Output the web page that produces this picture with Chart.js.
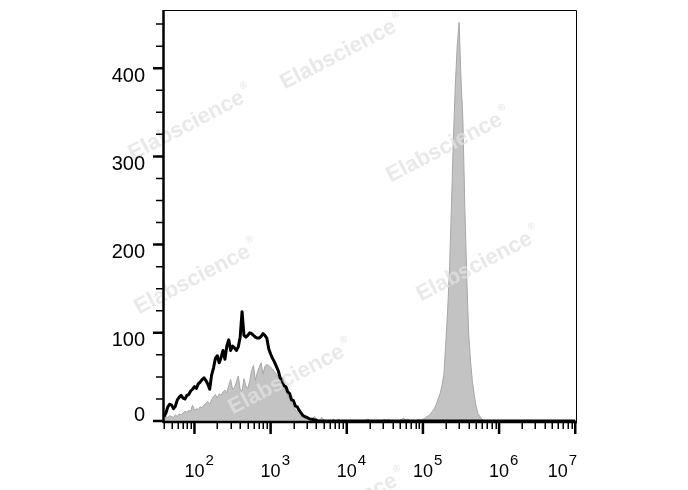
<!DOCTYPE html>
<html>
<head>
<meta charset="utf-8">
<script src="https://cdn.jsdelivr.net/npm/chart.js@4.4.1/dist/chart.umd.min.js"></script>
<style>
  body { margin: 0; background: #fff; }
  canvas { display: block; }
</style>
</head>
<body>
<canvas id="histChart" width="688" height="490"></canvas>
<script>
// Histogram bins: log10 of the fluorescence channel, uniform step
const binStart = 1.6;
const binStep = 0.025;

// Filled grey histogram (stained sample), one value per bin, 10 bins per row
const stainedCounts = [
    4, 5, 4, 6, 5, 4, 7, 5, 8, 7,              // 1.600
    9, 11, 10, 12, 11, 18, 12, 14, 13, 16,     // 1.850
    15, 18, 20, 22, 19, 24, 28, 30, 26, 31,    // 2.100
    29, 33, 35, 32, 40, 47, 36, 38, 44, 51,    // 2.350
    36, 34, 48, 40, 37, 45, 57, 63, 46, 55,    // 2.600
    61, 66, 53, 62, 64, 63, 61, 59, 56, 53,    // 2.850
    50, 46, 42, 38, 34, 29, 25, 20, 17, 13,    // 3.100
    10, 7, 5, 5, 4, 3, 3, 2, 3, 5,             // 3.350
    2, 1, 2, 4, 1, 1, 0, 1, 0, 2,              // 3.600
    0, 1, 2, 0, 0, 1, 0, 0, 1, 0,              // 3.850
    0, 0, 1, 0, 0, 0, 1, 2, 1, 0,              // 4.100
    0, 0, 1, 0, 0, 1, 2, 1, 2, 0,              // 4.350
    1, 0, 1, 0, 1, 2, 3, 1, 2, 1,              // 4.600
    0, 1, 0, 1, 2, 1, 2, 3, 5, 6,              // 4.850
    8, 11, 14, 19, 25, 31, 40, 53, 88, 126,    // 5.100
    175, 245, 320, 380, 425, 452, 388, 340, 243, 165, // 5.350
    100, 68, 44, 29, 16, 8, 5, 2, 1, 0,        // 5.600
    1, 0, 0, 0, 0, 0, 0, 0, 0, 0,              // 5.850
    0, 0, 0, 0, 0, 0, 0, 0, 0, 0,              // 6.100
    0, 0, 0, 0, 0, 0, 0, 0, 0, 0,              // 6.350
    0, 0, 0, 0, 0, 0, 0, 0, 0, 0,              // 6.600
    0, 0, 0, 0, 0, 0, 0                        // 6.850
];

// Black outline histogram (unstained control)
const controlCounts = [
    5, 9, 16, 19, 18, 14, 17, 24, 27, 29,      // 1.600
    26, 25, 29, 30, 34, 36, 39, 37, 42, 44,    // 1.850
    47, 49, 46, 42, 36, 52, 60, 71, 74, 66,    // 2.100
    72, 80, 70, 85, 92, 80, 85, 83, 80, 84,    // 2.350
    95, 124, 97, 95, 97, 100, 99, 97, 95, 94,  // 2.600
    94, 96, 99, 97, 94, 82, 76, 71, 67, 62,    // 2.850
    57, 49, 47, 40, 39, 33, 31, 24, 23, 17,    // 3.100
    16, 12, 9, 6, 5, 4, 3, 2, 2, 1,            // 3.350
    1, 0, 0, 0, 0, 0, 0, 0, 0, 0,              // 3.600
    0, 0, 0, 0, 0, 0, 0, 0, 0, 0,              // 3.850
    0, 0, 0, 0, 0, 0, 0, 0, 0, 0,              // 4.100
    0, 0, 0, 0, 0, 0, 0, 0, 0, 0,              // 4.350
    0, 0, 0, 0, 0, 0, 0, 0, 0, 0,              // 4.600
    0, 0, 0, 0, 0, 0, 0, 0, 0, 0,              // 4.850
    0, 0, 0, 0, 0, 0, 0, 0, 0, 0,              // 5.100
    0, 0, 0, 0, 0, 0, 0, 0, 0, 0,              // 5.350
    0, 0, 0, 0, 0, 0, 0, 0, 0, 0,              // 5.600
    0, 0, 0, 0, 0, 0, 0, 0, 0, 0,              // 5.850
    0, 0, 0, 0, 0, 0, 0, 0, 0, 0,              // 6.100
    0, 0, 0, 0, 0, 0, 0, 0, 0, 0,              // 6.350
    0, 0, 0, 0, 0, 0, 0, 0, 0, 0,              // 6.600
    0, 0, 0, 0, 0, 0, 0                        // 6.850
];

// Axis ticks
const xDecades = [2, 3, 4, 5, 6, 7];
const yMajorTicks = [0, 100, 200, 300, 400];
const yMinorTicks = [25, 50, 75, 125, 150, 175, 225, 250, 275, 325, 350, 375, 425, 450];

const FONT = '"Liberation Sans", Arial, sans-serif';

function toPoints(counts) {
    return counts.map((c, i) => ({ x: +(binStart + i * binStep).toFixed(3), y: c }));
}

// minor ticks of the log axis: m * 10^n, m = 2..9
function minorLogTicks(min, max) {
    let out = [];
    for (let n = 1; n < 7; n++) {
        for (let m = 2; m <= 9; m++) {
            let v = Math.log10(m) + n;
            if (v >= min && v <= max) out.push(v);
        }
    }
    return out;
}

const facsAxes = {
    id: 'facsAxes',
    afterDatasetsDraw(chart) {
        // faint watermark text
        const ctx = chart.ctx;
        const spots = [[342, 53], [190, 124], [448, 146], [196, 278], [478, 265], [290, 378], [343, 507]];
        ctx.save();
        ctx.fillStyle = 'rgba(226,226,226,0.75)';
        ctx.textBaseline = 'middle';
        for (let [cx, cy] of spots) {
            ctx.save();
            ctx.translate(cx, cy);
            ctx.rotate(-0.48);
            ctx.font = 'bold 22px ' + FONT;
            let w = ctx.measureText('Elabscience').width;
            ctx.textAlign = 'left';
            ctx.fillText('Elabscience', -w / 2 - 4, 0);
            ctx.font = 'bold 10px ' + FONT;
            ctx.fillText('®', w / 2 - 2, -9);
            ctx.restore();
        }
        ctx.restore();
    },
    afterDraw(chart) {
        const { ctx, chartArea: a, scales: { x, y } } = chart;
        ctx.save();
        ctx.strokeStyle = '#000';
        ctx.fillStyle = '#000';

        // thin frame top/right
        ctx.lineWidth = 1;
        ctx.beginPath();
        ctx.moveTo(a.left, a.top + 0.5);
        ctx.lineTo(a.right + 0.5, a.top + 0.5);
        ctx.lineTo(a.right + 0.5, a.bottom);
        ctx.stroke();

        // heavy left + bottom axes
        ctx.lineWidth = 2.5;
        ctx.beginPath();
        ctx.moveTo(a.left - 0.5, a.top);
        ctx.lineTo(a.left - 0.5, a.bottom + 2);
        ctx.moveTo(a.left - 1.5, a.bottom + 1);
        ctx.lineTo(a.right + 1, a.bottom + 1);
        ctx.stroke();

        // x ticks
        const base = a.bottom + 1;
        ctx.lineWidth = 1.5;
        ctx.beginPath();
        for (let v of minorLogTicks(x.min, x.max)) {
            let px = Math.round(x.getPixelForValue(v)) + 0.25;
            ctx.moveTo(px, base);
            ctx.lineTo(px, base + 7);
        }
        ctx.stroke();
        ctx.lineWidth = 2.5;
        ctx.beginPath();
        for (let d of xDecades) {
            let px = x.getPixelForValue(d);
            ctx.moveTo(px, base);
            ctx.lineTo(px, base + 12);
        }
        ctx.stroke();

        // x labels 10^n
        ctx.textAlign = 'left';
        ctx.textBaseline = 'alphabetic';
        for (let d of xDecades) {
            let px = x.getPixelForValue(d);
            ctx.font = '18px ' + FONT;
            let w1 = ctx.measureText('10').width;
            ctx.font = '15px ' + FONT;
            let w2 = ctx.measureText(String(d)).width;
            let left = px - w1 / 2;
            if (left + w1 + 1 + w2 > a.right + 1) left = a.right + 1 - (w1 + 1 + w2);
            ctx.font = '18px ' + FONT;
            ctx.fillText('10', left, 477);
            ctx.font = '15px ' + FONT;
            ctx.fillText(String(d), left + w1 + 1, 465);
        }

        // y ticks
        ctx.lineWidth = 1.5;
        ctx.beginPath();
        for (let v of yMinorTicks) {
            let py = y.getPixelForValue(v);
            ctx.moveTo(a.left - 8, py);
            ctx.lineTo(a.left, py);
        }
        ctx.stroke();
        ctx.lineWidth = 2.5;
        ctx.beginPath();
        for (let v of yMajorTicks) {
            let py = y.getPixelForValue(v);
            ctx.moveTo(a.left - 11, py);
            ctx.lineTo(a.left, py);
        }
        ctx.stroke();

        // y labels
        ctx.font = '20px ' + FONT;
        ctx.textAlign = 'right';
        ctx.textBaseline = 'middle';
        for (let v of yMajorTicks) {
            let py = Math.min(y.getPixelForValue(v) + 8, a.bottom - 6);
            ctx.fillText(String(v), 145, py);
        }
        ctx.restore();
    }
};

new Chart(document.getElementById('histChart'), {
    type: 'line',
    data: {
        datasets: [{
            label: 'Stained',
            data: toPoints(stainedCounts),
            borderColor: '#a6a6a6',
            borderWidth: 1,
            backgroundColor: '#c3c3c3',
            fill: 'origin',
            pointRadius: 0,
            tension: 0,
            order: 2
        }, {
            label: 'Control',
            data: toPoints(controlCounts),
            borderColor: '#000',
            borderWidth: 3,
            borderJoinStyle: 'round',
            fill: false,
            pointRadius: 0,
            tension: 0,
            order: 1
        }]
    },
    options: {
        responsive: false,
        animation: false,
        devicePixelRatio: 1,
        layout: { padding: { left: 164, right: 112, top: 10, bottom: 69 } },
        plugins: {
            legend: { display: false },
            tooltip: { enabled: false }
        },
        scales: {
            x: { type: 'linear', min: 1.6, max: 7.01, display: false },
            y: { type: 'linear', min: 0, max: 466, display: false }
        }
    },
    plugins: [facsAxes]
});
</script>
</body>
</html>
